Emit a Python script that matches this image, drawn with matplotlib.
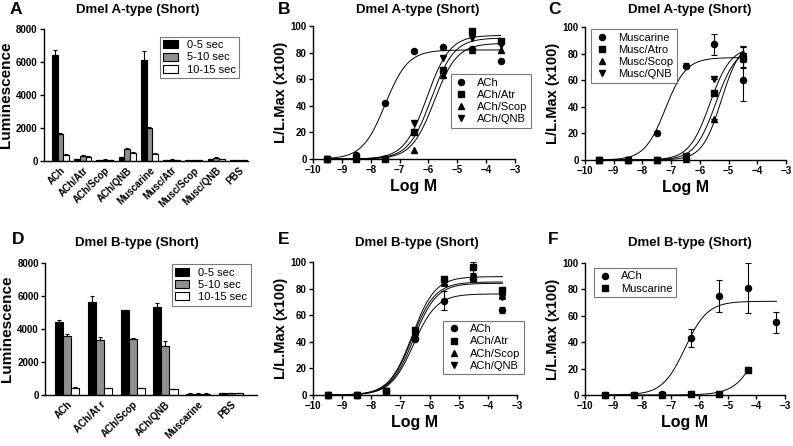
import numpy as np
import matplotlib
matplotlib.use('Agg')
from matplotlib import pyplot as plt
from matplotlib.patches import Patch
from matplotlib.lines import Line2D

plt.rcParams['font.family'] = ['Liberation Sans', 'DejaVu Sans']
plt.rcParams['font.weight'] = 'bold'

W, H = 793, 446

# ---- data ----
bins = ['0-5 sec', '5-10 sec', '10-15 sec']

a_groups = ['ACh', 'ACh/Atr', 'ACh/Scop', 'ACh/QNB', 'Muscarine', 'Musc/Atr', 'Musc/Scop', 'Musc/QNB', 'PBS']
a_0_5 = [6450, 100, 60, 230, 6100, 70, 50, 100, 60]
a_5_10 = [1650, 330, 90, 750, 2000, 90, 60, 200, 50]
a_10_15 = [380, 270, 80, 500, 450, 60, 50, 110, 40]
a_err_0_5 = [300, 20, 10, 30, 570, 10, 10, 20, 10]
a_err_5_10 = [40, 30, 10, 40, 60, 10, 10, 30, 10]
a_err_10_15 = [20, 30, 10, 20, 30, 10, 10, 20, 10]

d_groups = ['ACh', 'ACh/At r', 'ACh/Scop', 'ACh/QNB', 'Muscarine', 'PBS']
d_0_5 = [4420, 5650, 5130, 5350, 90, 110]
d_5_10 = [3600, 3320, 3400, 3000, 90, 120]
d_10_15 = [450, 400, 420, 340, 90, 100]
d_err_0_5 = [150, 380, 40, 250, 10, 10]
d_err_5_10 = [120, 180, 50, 280, 10, 10]
d_err_10_15 = [20, 20, 20, 40, 10, 10]

logm = [-9.5, -8.5, -7.5, -6.5, -5.5, -4.5, -3.5]

b_labels = ['ACh', 'ACh/Atr', 'ACh/Scop', 'ACh/QNB']
b_ach = [0, 3, 42, 81, 84, 83, 74]
b_atr = [0, 0, 0, 20, 67, 96, 89]
b_scop = [0, 1, 1, 7, 63, 82, 82]
b_qnb = [0, 0, 0, 27, 76, 91, 86]
# fitted curves: top, logEC50, hill
b_fit = [(82, -7.5, 1.1), (91, -5.9, 1.1), (87, -5.8, 1.1), (93, -6.05, 1.1)]

c_labels = ['Muscarine', 'Musc/Atro', 'Musc/Scop', 'Musc/QNB']
c_logm = [-9.5, -8.5, -7.5, -6.5, -5.5, -4.5]
c_musc = [0, 0, 20, 71, 87, 60]
c_musc_err = [0, 0, 0, 2, 8, 16]
c_atro = [0, 0, 0, 3, 50, 77]
c_atro_err = [0, 0, 0, 0, 0, 8]
c_scop = [0, 0, 0, 1, 31, 80]
c_scop_err = [0, 0, 0, 0, 0, 6]
c_qnb = [0, 0, 0, 2, 61, 78]
c_qnb_err = [0, 0, 0, 0, 0, 8]
c_fit = [(77, -7.2, 1.2), (85, -5.45, 1.2), (90, -5.25, 1.3), (85, -5.65, 1.2)]

e_labels = ['ACh', 'ACh/Atr', 'ACh/Scop', 'ACh/QNB']
e_ach = [0, 0, 3, 42, 71, 87, 64]
e_ach_err = [0, 0, 0, 0, 7, 2, 2]
e_atr = [0, 0, 3, 49, 87, 96, 79]
e_atr_err = [0, 0, 0, 0, 2, 4, 2]
e_scop = [0, 0, 3, 45, 85, 89, 75]
e_scop_err = [0, 0, 0, 0, 2, 2, 2]
e_qnb = [0, 0, 3, 46, 84, 88, 74]
e_qnb_err = [0, 0, 0, 0, 2, 2, 2]
e_fit = [(76, -6.55, 1.1), (89, -6.6, 1.1), (84, -6.55, 1.1), (85, -6.6, 1.1)]

f_labels = ['ACh', 'Muscarine']
f_logm = [-9.3, -8.3, -7.3, -6.3, -5.3, -4.3, -3.3]
f_ach = [0, 0, 1, 43, 75, 81, 55]
f_ach_err = [0, 0, 0, 7, 12, 19, 8]
f_musc_logm = [-9.3, -8.3, -7.3, -6.3, -5.3, -4.3]
f_musc = [0, 0, 0, 0.5, 1, 19]
f_fit = [(71, -6.5, 1.1), (100, -3.67, 1.0)]

markers = ['o', 's', '^', 'v']

fig = plt.figure(figsize=(W / 100, H / 100), dpi=100)


def add_ax(x0, x1, ytop, ybot):
    return fig.add_axes([x0 / W, 1 - ybot / H, (x1 - x0) / W, (ybot - ytop) / H])


def style(ax):
    for s in ['top', 'right']:
        ax.spines[s].set_visible(False)
    for s in ['left', 'bottom']:
        ax.spines[s].set_linewidth(1.0)
    ax.tick_params(direction='out', length=3, width=1.0, labelsize=7, pad=1.5)
    for t in ax.get_xticklabels() + ax.get_yticklabels():
        t.set_fontweight('bold')


def sigmoid(x, top, ec50, hill):
    return top / (1 + 10 ** ((ec50 - x) * hill))


def bar_panel(ax, groups, series, errs, width, xlim):
    x = np.arange(len(groups))
    colors = ['black', '#8f8f8f', 'white']
    for i, (vals, err) in enumerate(zip(series, errs)):
        ax.bar(x + (i - 1) * width, vals, width, color=colors[i], edgecolor='black', linewidth=0.8,
               yerr=[np.zeros(len(vals)), err], error_kw=dict(elinewidth=0.8, capsize=1.5, capthick=0.8, ecolor='black'),
               label=bins[i])
    ax.set_xlim(*xlim)
    ax.set_ylim(0, 8000)
    ax.set_yticks([0, 2000, 4000, 6000, 8000])
    ax.set_xticks(x)
    ax.set_xticklabels(groups, rotation=45, ha='right', rotation_mode='anchor', fontsize=7.3, fontweight='bold')
    ax.set_ylabel('Luminescence', fontsize=11, fontweight='bold', labelpad=2)
    style(ax)
    ax.tick_params(axis='x', length=0, pad=3)


def dose_panel(ax, xs_list, ys_list, errs_list, fits, xranges, labels, xlim=(-10, -3)):
    for i in range(len(ys_list)):
        xr = np.linspace(xranges[i][0], xranges[i][1], 200)
        ax.plot(xr, sigmoid(xr, *fits[i]), color='black', lw=0.7)
    for i in range(len(ys_list)):
        err = errs_list[i]
        if err is not None:
            ax.errorbar(xs_list[i], ys_list[i], yerr=err, fmt='none', ecolor='black', elinewidth=0.8,
                        capsize=2, capthick=0.8)
        ax.plot(xs_list[i], ys_list[i], linestyle='none', marker=markers[i], color='black',
                markersize=4.4, clip_on=False, label=labels[i])
    ax.set_xlim(*xlim)
    ax.set_ylim(0, 100)
    ax.set_xticks(np.arange(-10, -2, 1))
    ax.set_yticks([0, 20, 40, 60, 80, 100])
    ax.set_xlabel('Log M', fontsize=11.5, fontweight='bold', labelpad=3)
    ax.set_ylabel('L/L.Max (x100)', fontsize=10.5, fontweight='bold', labelpad=2)
    style(ax)


def legend_at(ax, handles, labels, box):
    x0, y0, x1, y1 = box
    leg = ax.legend(handles, labels, loc='center', bbox_to_anchor=(x0 / W, 1 - y1 / H, (x1 - x0) / W, (y1 - y0) / H),
                    bbox_transform=fig.transFigure, fontsize=8, frameon=True, fancybox=False,
                    edgecolor='#555555', borderpad=0.3, labelspacing=0.2, handlelength=1.3,
                    handletextpad=0.8, borderaxespad=0)
    leg.get_frame().set_linewidth(0.8)
    for t in leg.get_texts():
        t.set_fontweight('normal')
    return leg


def marker_handles(n):
    return [Line2D([], [], linestyle='none', marker=markers[i], color='black', markersize=4.4) for i in range(n)]


bar_handles = [Patch(facecolor=c, edgecolor='black', linewidth=0.8) for c in ['black', '#8f8f8f', 'white']]

# ---- A ----
axA = add_ax(44, 248, 29, 161)
bar_panel(axA, a_groups, [a_0_5, a_5_10, a_10_15], [a_err_0_5, a_err_5_10, a_err_10_15], 0.255, (-0.74, 8.43))
legend_at(axA, bar_handles, bins, (160, 33, 239, 82))

# ---- B ----
axB = add_ax(313, 515, 26, 159)
dose_panel(axB, [logm] * 4, [b_ach, b_atr, b_scop, b_qnb], [None] * 4, b_fit,
           [(-9.5, -3.5)] * 4, b_labels)
legend_at(axB, marker_handles(4), b_labels, (453, 74, 529, 128))

# ---- C ----
axC = add_ax(585, 786, 27, 160)
dose_panel(axC, [c_logm] * 4, [c_musc, c_atro, c_scop, c_qnb], [c_musc_err, c_atro_err, c_scop_err, c_qnb_err],
           c_fit, [(-9.5, -4.5)] * 4, c_labels)
legend_at(axC, marker_handles(4), c_labels, (594, 25, 674, 87))

# ---- D ----
axD = add_ax(45, 257, 263, 395)
bar_panel(axD, d_groups, [d_0_5, d_5_10, d_10_15], [d_err_0_5, d_err_5_10, d_err_10_15], 0.245, (-0.67, 5.79))
legend_at(axD, bar_handles, bins, (173, 263, 249, 307))

# ---- E ----
axE = add_ax(313, 517, 262, 395)
dose_panel(axE, [logm] * 4, [e_ach, e_atr, e_scop, e_qnb], [e_ach_err, e_atr_err, e_scop_err, e_qnb_err],
           e_fit, [(-9.5, -3.5)] * 4, e_labels)
legend_at(axE, marker_handles(4), e_labels, (443, 318, 524, 377))

# ---- F ----
axF = add_ax(585, 785, 263, 395)
dose_panel(axF, [f_logm, f_musc_logm], [f_ach, f_musc], [f_ach_err, None], f_fit,
           [(-9.3, -3.3), (-9.3, -4.3)], f_labels)
legend_at(axF, marker_handles(2), f_labels, (598, 267, 672, 298))

# titles and panel letters
titles = [(138, 10, 'Dmel A-type (Short)'), (418, 10, 'Dmel A-type (Short)'), (690, 10, 'Dmel A-type (Short)'),
          (137, 243, 'Dmel B-type (Short)'), (417, 243, 'Dmel B-type (Short)'), (690, 243, 'Dmel B-type (Short)')]
for x, y, t in titles:
    fig.text(x / W, 1 - y / H, t, ha='center', va='center', fontsize=9.5, fontweight='bold')

letters = [(10, 10, 'A'), (278, 10, 'B'), (548, 10, 'C'), (12, 240, 'D'), (278, 240, 'E'), (548, 240, 'F')]
for x, y, t in letters:
    fig.text(x / W, 1 - y / H, t, ha='left', va='center', fontsize=12.5, fontweight='bold')

fig.savefig('out.png', dpi=100)
